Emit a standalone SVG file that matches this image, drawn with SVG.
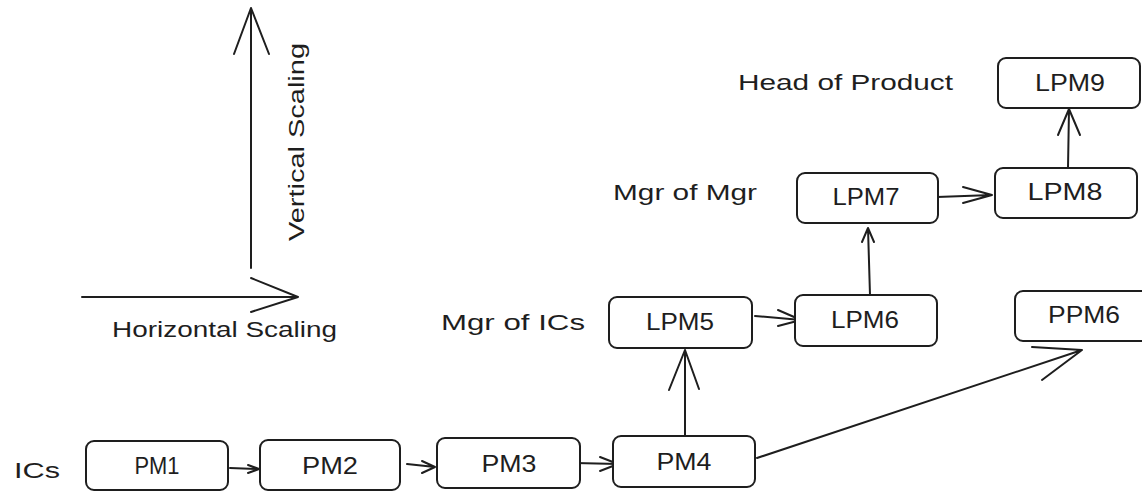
<svg xmlns="http://www.w3.org/2000/svg" width="1142" height="492" viewBox="0 0 1142 492">
  <style>
    .box { fill: #ffffff; stroke: #1e1e1e; stroke-width: 2; }
    .lbl { font-family: "Liberation Sans", Arial, sans-serif; font-size: 24px; fill: #1e1e1e; text-anchor: middle; }
    .note { font-family: "Liberation Sans", Arial, sans-serif; font-size: 22px; fill: #1e1e1e; }
    .edge { fill: none; stroke: #1e1e1e; stroke-width: 2; stroke-linecap: round; stroke-linejoin: round; }
  </style>
  <rect width="1142" height="492" fill="#ffffff"/>

  <g id="axes">
    <path class="edge" d="M251 268 L251 8 M234 54 L251 8 L269 54"/>
    <path class="edge" d="M82 297 L298 297 M251 278 L298 297 L251 312"/>
    <text class="note" x="112" y="337" textLength="225" lengthAdjust="spacingAndGlyphs">Horizontal Scaling</text>
    <text class="note" transform="translate(304 241) rotate(-90)" x="0" y="0" textLength="198" lengthAdjust="spacingAndGlyphs">Vertical Scaling</text>
  </g>

  <g id="level-labels">
    <text class="note" x="14" y="478" font-size="26" textLength="46" lengthAdjust="spacingAndGlyphs">ICs</text>
    <text class="note" x="441" y="330" textLength="144" lengthAdjust="spacingAndGlyphs">Mgr of ICs</text>
    <text class="note" x="613" y="200" textLength="144" lengthAdjust="spacingAndGlyphs">Mgr of Mgr</text>
    <text class="note" x="738" y="90" textLength="215" lengthAdjust="spacingAndGlyphs">Head of Product</text>
  </g>

  <g id="connectors">
    <path class="edge" d="M230 468 L259 469 M248 465 L259 469 L248 473"/>
    <path class="edge" d="M407 464 L435 467 M422 461 L435 467 L422 473"/>
    <path class="edge" d="M575 463 L618 464 M600 457 L618 464 L600 471"/>
    <path class="edge" d="M685 435 L685 350 M669 390 L685 350 L699 389"/>
    <path class="edge" d="M755 316 L801 320 M778 310 L801 320 L778 326"/>
    <path class="edge" d="M870 295 L868 228 M862 242 L868 228 L874 242"/>
    <path class="edge" d="M937 197 L992 195 M963 187 L992 195 L963 203"/>
    <path class="edge" d="M1068 168 L1069 109 M1058 135 L1069 109 L1080 135"/>
    <path class="edge" d="M757 458 L1082 350 M1032 347 L1082 350 L1042 380"/>
  </g>

  <g id="PM1"><rect class="box" x="86" y="441" width="142" height="49" rx="8"/><text class="lbl" x="157" y="474" textLength="45" lengthAdjust="spacingAndGlyphs">PM1</text></g>
  <g id="PM2"><rect class="box" x="260" y="440" width="140" height="50" rx="8"/><text class="lbl" x="330" y="474" textLength="56" lengthAdjust="spacingAndGlyphs">PM2</text></g>
  <g id="PM3"><rect class="box" x="437" y="438" width="143" height="50" rx="8"/><text class="lbl" x="509" y="472" textLength="55" lengthAdjust="spacingAndGlyphs">PM3</text></g>
  <g id="PM4"><rect class="box" x="613" y="436" width="142" height="51" rx="8"/><text class="lbl" x="684" y="470" textLength="55" lengthAdjust="spacingAndGlyphs">PM4</text></g>
  <g id="LPM5"><rect class="box" x="609" y="297" width="143" height="51" rx="8"/><text class="lbl" x="680" y="330" textLength="68" lengthAdjust="spacingAndGlyphs">LPM5</text></g>
  <g id="LPM6"><rect class="box" x="795" y="295" width="142" height="51" rx="8"/><text class="lbl" x="865" y="328" textLength="68" lengthAdjust="spacingAndGlyphs">LPM6</text></g>
  <g id="PPM6"><rect class="box" x="1015" y="291" width="140" height="50" rx="8"/><text class="lbl" x="1084" y="323" textLength="72" lengthAdjust="spacingAndGlyphs">PPM6</text></g>
  <g id="LPM7"><rect class="box" x="797" y="173" width="141" height="50" rx="8"/><text class="lbl" x="866" y="205" textLength="67" lengthAdjust="spacingAndGlyphs">LPM7</text></g>
  <g id="LPM8"><rect class="box" x="995" y="168" width="142" height="50" rx="8"/><text class="lbl" x="1065" y="200" textLength="75" lengthAdjust="spacingAndGlyphs">LPM8</text></g>
  <g id="LPM9"><rect class="box" x="998" y="58" width="142" height="50" rx="8"/><text class="lbl" x="1070" y="91" textLength="70" lengthAdjust="spacingAndGlyphs">LPM9</text></g>
</svg>
